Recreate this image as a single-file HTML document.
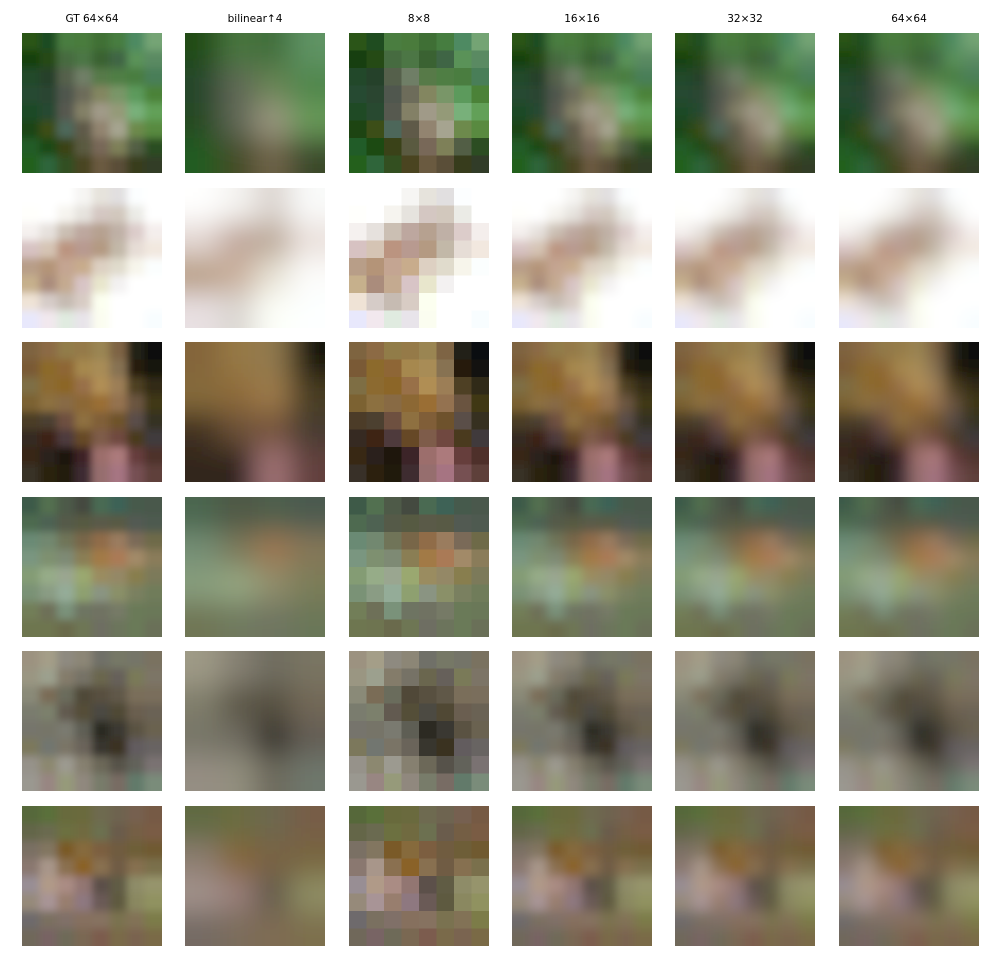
<!DOCTYPE html>
<html><head><meta charset="utf-8"><style>
html,body{margin:0;padding:0;background:#fff;overflow:hidden;width:1000px;height:960px;}
svg{display:block;}
text{font-family:"DejaVu Sans","Liberation Sans",sans-serif;font-size:10.5px;fill:#000;}
</style></head><body>
<svg id="fig" width="1000" height="960" viewBox="0 0 1000 960" xmlns="http://www.w3.org/2000/svg">
<defs id="defs"></defs>
<rect width="1000" height="960" fill="#fff"/>
</svg>
<script>
const titles=["GT 64×64","bilinear↑4","8×8","16×16","32×32","64×64"];
const rowNames=["bird","frog","dog","horse","toad","frog2"];
const img0=[
"2b5518 1f4c20 4a7d40 4a7b3c 3f6f35 467d40 4e8a62 74a474",
"173f10 254a15 466b40 4c7645 3a6232 3f6545 5a9258 5a8a62",
"22482a 25412a 55604b 6f7e66 577a48 4f7e44 4a7d40 497e58",
"264a32 2a4530 50574e 6d6c5a 838660 799668 5c9a5c 4b8238",
"1f4a25 284930 56594f 838066 a09a88 949a78 78b07a 62a058",
"1d4412 3c4e18 4d675a 5f5a48 928470 a6a490 6d8a4c 598a40",
"215c28 1c4a12 3a4218 5a5a40 786858 7e8058 525e45 2c4d22",
"24601c 2f653a 334f20 4a4420 6a5a40 5a4e38 373c1c 313c28"];
const img1=[
"ffffff ffffff ffffff f6f5f3 e6e3dc e1dfe0 fcfeff ffffff",
"fffffc ffffff f6f4ef e6e3de d4c7c2 d2c8bd ebebe6 ffffff",
"f5f1ef e6e1dd cbbfb3 bda79f b6a190 bfb0a6 dcccca f4eeec",
"d7c2c2 d5c4b4 bb9480 b89a90 b49a82 c2b8a8 e6ddd6 f2e8df",
"b89e88 b49478 c4a592 c8ac8c ddd0c2 e0dbcc f7f5eb fbfefe",
"c6b08c aa8c7c c4aa90 d8c4c6 e8e6cc f3f1f1 ffffff ffffff",
"efe3d6 d6ccc8 c6bbb2 d8ccc4 fcfff0 ffffff ffffff ffffff",
"e8e8fc f2e8ee e0ebe0 e8e4ea fbfdf0 ffffff ffffff f8fdff"];
const img2=[
"7e6440 8c6a44 917c48 957a48 9a8552 7e6444 222018 0a0d10",
"7a5a36 8c6a2c 8e6636 a6884e a88c56 877252 261a0c 131210",
"7e6e44 8c6a30 8c6628 987048 b08e54 9c7e56 4e4024 302a18",
"7c6232 8c7040 886a44 8c6834 9a6e34 947250 6a5440 403814",
"4c3c28 4c4030 6e5040 8e7040 805e38 6e522c 5a4e48 363020",
"362a22 3e2414 4e3a3c 664826 7e5c4a 704840 4a3a1e 403a3c",
"382814 2a201c 1e160c 3c2428 9c6e6c ac7a7c 663e3c 4e302a",
"383028 2c200e 201a0c 3e2c30 966e6e a67482 765052 5e403a"];
const img3=[
"3e5a48 527050 4e5a48 444a40 4a6a52 3e6256 465a4c 4a584c",
"4e6a50 4e6252 555a48 565a42 5a5a48 585a45 525a52 4e5a50",
"6a8a74 728870 707458 786648 906c48 9a7c5e 7a6a58 6e6a48",
"7a9680 7e9070 7e8a74 8a7e54 a27a46 aa7a56 a28a68 8a7c5a",
"849c74 96ac88 9aa690 9aa870 9a8c60 948866 887e4e 7c7a5a",
"7a9276 8a9c84 94ac98 8ea070 8a9482 8a9068 7a8060 707c5a",
"727e58 6e7058 7a927a 6e7462 707262 767a66 6a7a58 6a7858",
"6e7650 6e7450 6a6a4c 6e7654 6e6e62 6c745c 6a7a58 6a7058"];
const img4=[
"9c9280 a49e88 8e8a80 8c8676 707068 767866 747468 7a7260",
"9a9682 9ca08e 847c6a 767266 6a664e 66605a 7a7a58 7c7466",
"8a8a78 7a6c56 6a6c5c 504838 585040 605848 7a6e5a 7a6e5c",
"7a7c6e 7c806c 625a50 544e38 4c4a42 504834 6a5e50 6a6254",
"76746c 767468 7a7a70 5e5e54 2c2a22 3a3832 5a5242 6a6250",
"7c785c 727670 7a7466 6a645a 38362e 3a3220 625c5e 686462",
"96928a 8c8870 9c9a90 868070 6c6858 56524a 62625a 7a7272",
"9a9890 988682 969a7a 90887e 787c6a 786c64 627a6a 7a8c7a"];
const img5=[
"56683a 5a703a 686a3c 6a6a3e 6e6a50 6e6450 766050 765a44",
"646648 6a6a50 6c7040 706a40 6c7050 6a5c4c 745e44 7a5c44",
"7a7064 827660 7a5a28 866a3c 7c5e40 705c40 6e5e38 705a30",
"8a7870 a8968a 8a7050 8a6228 887050 705c44 867050 7a704c",
"988e94 b09a88 aa8c84 927672 5c504a 605c44 8e8c68 96946c",
"968a7a a89496 987e6e 8e7880 6a5a56 5e5a40 8a8860 909260",
"6e6a6c 7a7060 807068 86705e 867260 7a7250 827256 7c7c48",
"70685a 786464 6e6a58 7a6852 7c5c4e 7a6a4a 7a6450 7a6a46"];
const images=[img0,img1,img2,img3,img4,img5];

const NS="http://www.w3.org/2000/svg";
const svg=document.getElementById('fig');
const defs=document.getElementById('defs');
const colX=[22,185,349,512,675,839];
const rowY=[33,188,342,497,651,806];
const SZ=140;
const blurs=[4,14,0,5,6.5,7.5];
blurs.forEach((b,i)=>{
  if(!b) return;
  const f=document.createElementNS(NS,'filter');
  f.setAttribute('id','bl'+i);
  f.setAttribute('x','-20%');f.setAttribute('y','-20%');f.setAttribute('width','140%');f.setAttribute('height','140%');
  const g=document.createElementNS(NS,'feGaussianBlur');
  g.setAttribute('stdDeviation',b);
  f.appendChild(g);defs.appendChild(f);
});
function parse(img){return img.map(r=>r.split(' ').map(h=>[parseInt(h.substr(0,2),16),parseInt(h.substr(2,2),16),parseInt(h.substr(4,2),16)]));}
function down(grid){const o=[];for(let i=0;i<4;i++){o.push([]);for(let j=0;j<4;j++){let s=[0,0,0];for(let a=0;a<2;a++)for(let b=0;b<2;b++){const c=grid[2*i+a][2*j+b];s[0]+=c[0];s[1]+=c[1];s[2]+=c[2];}o[i].push(s.map(v=>Math.round(v/4)));}}return o;}
titles.forEach((t,c)=>{
  const tx=document.createElementNS(NS,'text');
  tx.setAttribute('x',colX[c]+SZ/2);tx.setAttribute('y',22);tx.setAttribute('text-anchor','middle');
  tx.textContent=t;
  
  
  svg.appendChild(tx);
});
images.forEach((img,r)=>{
  const grid=parse(img);
  for(let c=0;c<6;c++){
    const g0=c===1?down(grid):grid;
    const n=g0.length, cs=SZ/n;
    const cp=document.createElementNS(NS,'clipPath');
    cp.setAttribute('id','cp'+r+'_'+c);
    const cr=document.createElementNS(NS,'rect');
    cr.setAttribute('x',colX[c]);cr.setAttribute('y',rowY[r]);cr.setAttribute('width',SZ);cr.setAttribute('height',SZ);
    cp.appendChild(cr);defs.appendChild(cp);
    const outer=document.createElementNS(NS,'g');
    outer.setAttribute('clip-path','url(#cp'+r+'_'+c+')');
    
    
    const inner=document.createElementNS(NS,'g');
    if(blurs[c]) inner.setAttribute('filter','url(#bl'+c+')');
    const ext=blurs[c]?3:0;
    for(let i=-ext;i<n+ext;i++)for(let j=-ext;j<n+ext;j++){
      const col=g0[Math.min(n-1,Math.max(0,i))][Math.min(n-1,Math.max(0,j))];
      const re=document.createElementNS(NS,'rect');
      re.setAttribute('x',colX[c]+j*cs);re.setAttribute('y',rowY[r]+i*cs);
      re.setAttribute('width',cs+0.5);re.setAttribute('height',cs+0.5);
      re.setAttribute('fill','rgb('+col.join(',')+')');
      inner.appendChild(re);
    }
    outer.appendChild(inner);svg.appendChild(outer);
  }
});
</script>
</body></html>
